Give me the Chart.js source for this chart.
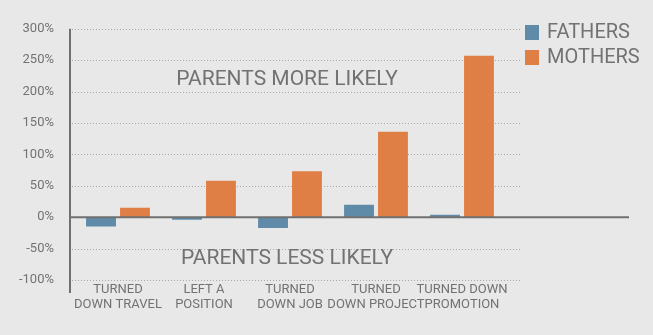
<!DOCTYPE html>
<html>
<head>
<meta charset="utf-8">
<script src="https://cdn.jsdelivr.net/npm/chart.js@4/dist/chart.umd.min.js"></script>
<style>
  html, body { margin: 0; padding: 0; background: #e8e8e8; }
  #wrap { width: 653px; height: 335px; }
</style>
</head>
<body>
<div id="wrap"><canvas id="c" width="653" height="335"></canvas></div>
<script>
const categories = [
  ['TURNED', 'DOWN TRAVEL'],
  ['LEFT A', 'POSITION'],
  ['TURNED', 'DOWN JOB'],
  ['TURNED', 'DOWN PROJECT'],
  ['TURNED DOWN', 'PROMOTION']
];
const fathers = [-15, -4, -17, 20, 4];
const mothers = [15, 58, 73, 136, 257];
const seriesNames = ['FATHERS', 'MOTHERS'];
const annotations = [
  { text: 'PARENTS MORE LIKELY', value: 219 },
  { text: 'PARENTS LESS LIKELY', value: -66 }
];

const TEXT = '#727272';
const FONT = 'Roboto, "DejaVu Sans", sans-serif';

const decor = {
  id: 'decor',
  beforeDatasetsDraw(chart) {
    const ctx = chart.ctx, y = chart.scales.y, a = chart.chartArea;
    ctx.save();
    ctx.strokeStyle = '#a8a8a8';
    ctx.lineWidth = 1;
    ctx.setLineDash([1, 2]);
    y.ticks.forEach(t => {
      if (t.value === 0) return;
      const py = Math.round(y.getPixelForValue(t.value)) + 0.5;
      ctx.beginPath();
      ctx.moveTo(a.left - 3, py);
      ctx.lineTo(a.right + 15, py);
      ctx.stroke();
    });
    ctx.setLineDash([]);
    ctx.fillStyle = TEXT;
    ctx.font = '21px ' + FONT;
    ctx.textAlign = 'center';
    ctx.textBaseline = 'middle';
    annotations.forEach(an => {
      ctx.fillText(an.text, (a.left + a.right) / 2 - 3, y.getPixelForValue(an.value));
    });
    ctx.restore();
  },
  afterDatasetsDraw(chart) {
    const ctx = chart.ctx, y = chart.scales.y, a = chart.chartArea;
    ctx.save();
    ctx.strokeStyle = '#707070';
    ctx.lineWidth = 2;
    ctx.beginPath();
    ctx.moveTo(a.left - 5, a.top);
    ctx.lineTo(a.left - 5, a.bottom + 13);
    ctx.stroke();
    const z = y.getPixelForValue(0);
    ctx.beginPath();
    ctx.moveTo(a.left - 5, z);
    ctx.lineTo(629, z);
    ctx.stroke();
    ctx.font = '20px ' + FONT;
    ctx.textAlign = 'left';
    ctx.textBaseline = 'middle';
    chart.data.datasets.forEach((ds, i) => {
      const top = 25 + i * 25;
      ctx.fillStyle = ds.backgroundColor;
      ctx.fillRect(525, top, 14, 15);
      ctx.fillStyle = TEXT;
      ctx.fillText(ds.label, 547, top + 8);
    });
    ctx.restore();
  }
};

new Chart(document.getElementById('c'), {
  type: 'bar',
  data: {
    labels: categories,
    datasets: [
      { label: seriesNames[0], data: fathers, backgroundColor: '#5f8ba8' },
      { label: seriesNames[1], data: mothers, backgroundColor: '#e07f45' }
    ]
  },
  options: {
    responsive: false,
    animation: false,
    events: [],
    layout: { padding: { top: 25, right: 148, left: 0, bottom: 0 } },
    plugins: { legend: { display: false }, tooltip: { enabled: false } },
    datasets: { bar: { categoryPercentage: 0.79, barPercentage: 0.88 } },
    scales: {
      x: {
        grid: { display: false, drawTicks: false },
        border: { display: false },
        ticks: { color: TEXT, font: { family: FONT, size: 13, lineHeight: 1.17 }, padding: 2, maxRotation: 0, autoSkip: false },
        afterFit(s) { s.height = 55; }
      },
      y: {
        min: -100, max: 300,
        grid: { display: false, drawTicks: false },
        border: { display: false },
        ticks: { stepSize: 50, color: TEXT, font: { family: FONT, size: 13 }, padding: 21, callback: v => v + '%' },
        afterFit(s) { s.width = 75; }
      }
    }
  },
  plugins: [decor]
});
</script>
</body>
</html>
